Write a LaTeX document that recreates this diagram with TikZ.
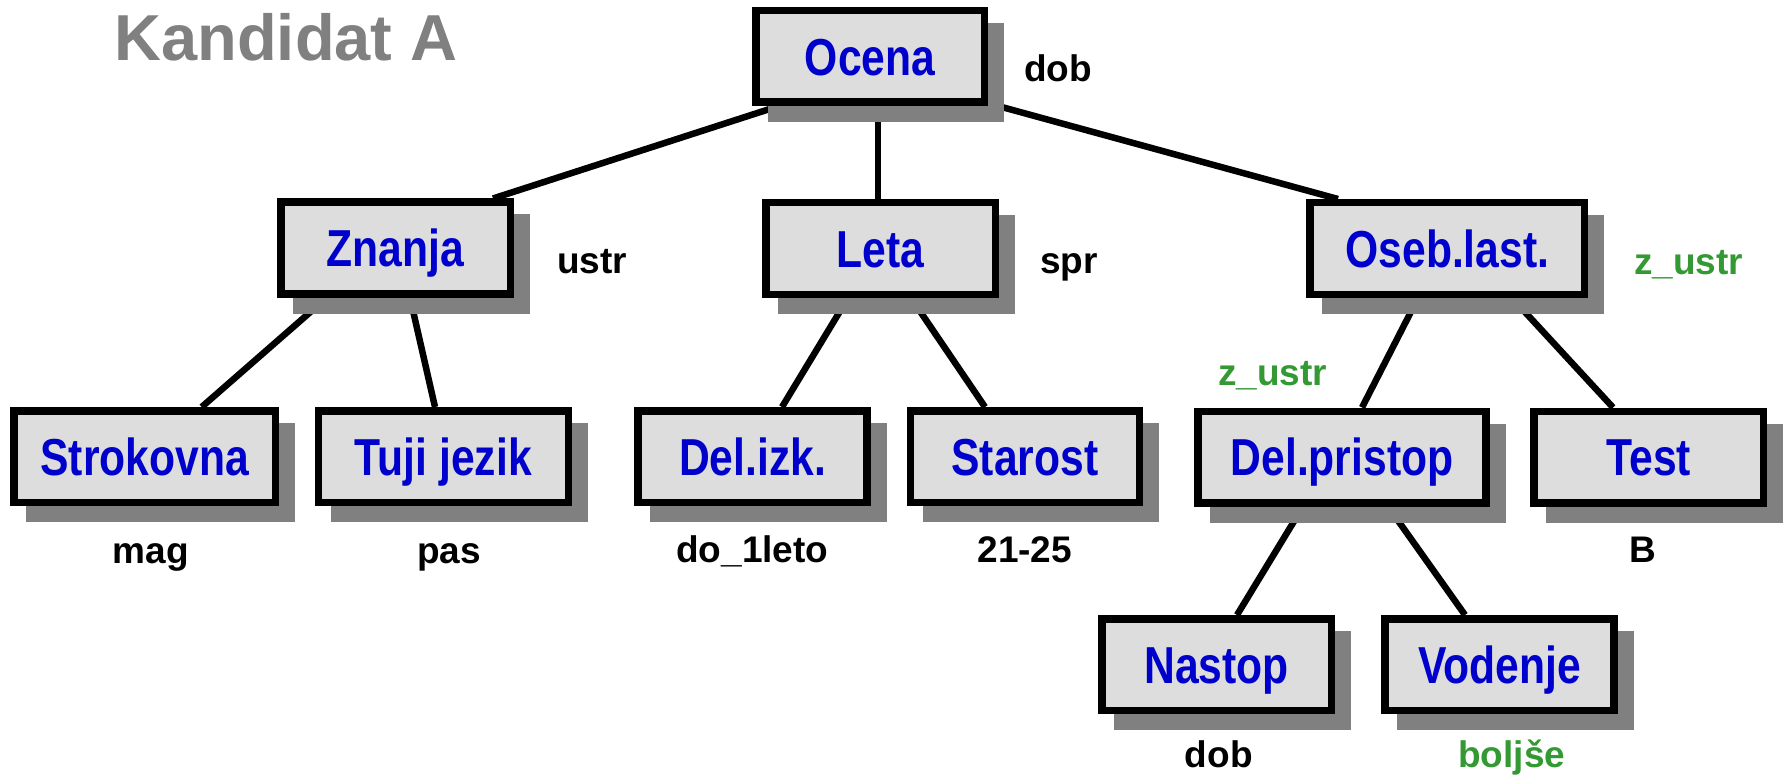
\documentclass[tikz,border=0pt]{standalone}
\usepackage{fontspec}
\setmainfont{Liberation Sans}
\usepackage{graphicx}
\usetikzlibrary{calc,backgrounds}
\definecolor{boxfill}{HTML}{DDDDDD}
\definecolor{shadowgray}{HTML}{808080}
\definecolor{nodeblue}{HTML}{0000CC}
\definecolor{valgreen}{HTML}{339933}
\definecolor{titlegray}{HTML}{808080}
% narrow attribute names
\newcommand{\nw}[1]{\scalebox{0.82}[1]{#1}}

\begin{document}
\begin{tikzpicture}[x=1pt,y=-1pt,
  attr/.style={rectangle, draw=black, line width=7.5pt, fill=boxfill,
    inner sep=0pt, minimum height=91.5pt, text height=37.5pt, text depth=0pt,
    text=nodeblue, font=\bfseries\fontsize{52}{60}\selectfont},
  val/.style={anchor=base, inner sep=0pt, font=\bfseries\fontsize{37}{44}\selectfont},
  good/.style={val, text=valgreen},
  edge/.style={draw=black, line width=6.5pt},
  shade/.style={fill=shadowgray},
  ]
\useasboundingbox (0,0) rectangle (1785,778);

% title
\node[anchor=base, inner sep=0pt, text=titlegray,
      font=\bfseries\fontsize{65}{75}\selectfont] (title) at (286,61) {Kandidat A};

% attribute tree
\node[attr, minimum width=228.5pt] (ocena)   at (870,56.5)    {\nw{Ocena}};
\node[attr, minimum width=229.5pt] (znanja)  at (395.5,248)   {\nw{Znanja}};
\node[attr, minimum width=229.5pt] (leta)    at (880.5,248.5) {\nw{Leta}};
\node[attr, minimum width=274.2pt] (oseb)    at (1447.3,248.5){\nw{Oseb.last.}};
\node[attr, minimum width=261.5pt] (strok)   at (144.8,456.5) {\nw{Strokovna}};
\node[attr, minimum width=250pt]   (tuji)    at (443.4,456.5) {\nw{Tuji jezik}};
\node[attr, minimum width=229.2pt] (delizk)  at (752.6,456.5) {\nw{Del.izk.}};
\node[attr, minimum width=229pt]   (starost) at (1025,456.5)  {\nw{Starost}};
\node[attr, minimum width=288pt]   (delpri)  at (1342,457)    {\nw{Del.pristop}};
\node[attr, minimum width=229.5pt] (test)    at (1648.7,457)  {\nw{Test}};
\node[attr, minimum width=229.8pt] (nastop)  at (1216.7,664.5){\nw{Nastop}};
\node[attr, minimum width=229pt]   (vodenje) at (1499.5,664.5){\nw{Vodenje}};

% values
\node[val]  (v-ocena)   at (1058,82)    {dob};
\node[val]  (v-znanja)  at (592,273)    {ustr};
\node[val]  (v-leta)    at (1069,273)   {spr};
\node[good] (v-oseb)    at (1688.7,274) {z\_ustr};
\node[good] (v-delpri)  at (1272.6,385) {z\_ustr};
\node[val]  (v-strok)   at (150.8,563)  {mag};
\node[val]  (v-tuji)    at (449,563)    {pas};
\node[val]  (v-delizk)  at (752.3,562)  {do\_1leto};
\node[val]  (v-starost) at (1024.8,562) {21-25};
\node[val]  (v-test)    at (1643,562)   {B};
\node[val]  (v-nastop)  at (1218.7,767) {dob};
\node[good] (v-vodenje) at (1511.7,767) {boljše};

\begin{pgfonlayer}{background}
  % connectors
  \draw[edge] ($(ocena.south)+(-91,0)$)    -- ($(znanja.north)+(97.5,0)$);
  \draw[edge] ($(ocena.south)+(8,0)$)      -- ($(leta.north)+(-2.5,0)$);
  \draw[edge] ($(ocena.south)+(128,0)$)    -- ($(oseb.north)+(-109.3,0)$);
  \draw[edge] ($(znanja.south)+(-68.5,0)$) -- ($(strok.north)+(56.9,0)$);
  \draw[edge] ($(znanja.south)+(14.5,0)$)  -- ($(tuji.north)+(-8.4,0)$);
  \draw[edge] ($(leta.south)+(-32.5,0)$)   -- ($(delizk.north)+(29.4,0)$);
  \draw[edge] ($(leta.south)+(30.5,0)$)    -- ($(starost.north)+(-40,0)$);
  \draw[edge] ($(oseb.south)+(-29.3,0)$)   -- ($(delpri.north)+(20,0)$);
  \draw[edge] ($(oseb.south)+(64.7,0)$)    -- ($(test.north)+(-35.7,0)$);
  \draw[edge] ($(delpri.south)+(-39,0)$)   -- ($(nastop.north)+(20.3,0)$);
  \draw[edge] ($(delpri.south)+(46,0)$)    -- ($(vodenje.north)+(-34.5,0)$);
  % box shadows
  \foreach \n in {ocena,znanja,leta,oseb,strok,tuji,delizk,starost,delpri,test,nastop,vodenje}
    \fill[shade] ([shift={(16,16)}]\n.north west) rectangle ([shift={(16,16)}]\n.south east);
\end{pgfonlayer}
\end{tikzpicture}
\end{document}
